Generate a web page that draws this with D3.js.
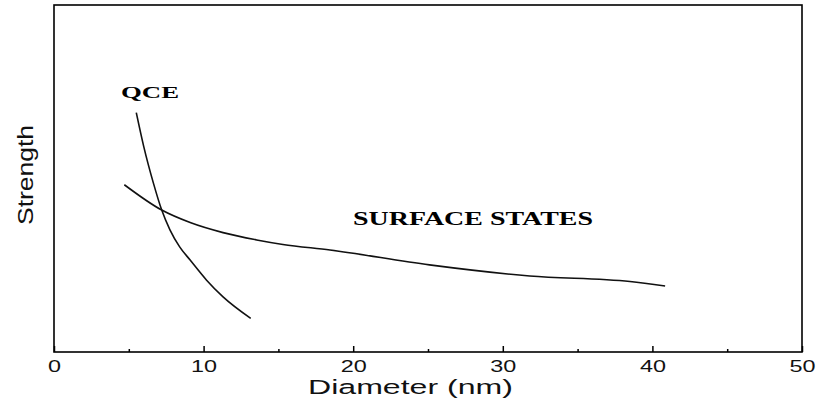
<!DOCTYPE html>
<html>
<head>
<meta charset="utf-8">
<script src="https://cdn.jsdelivr.net/npm/d3@7"></script>
<style>
  body { margin: 0; background: #fff; }
  svg { display: block; }
</style>
</head>
<body>
<svg width="817" height="402"></svg>
<script>
// data (strength is in arbitrary units, 0-100)
const qceDiameter = [5.5, 6.0, 6.65, 7.2, 7.75, 8.4, 9.1, 10.2, 11.3, 13.15]
const qceStrength = [69.0, 59.2, 48.6, 40.9, 35.2, 30.3, 26.5, 20.7, 15.9, 9.7]

const surfDiameter = [4.7, 7.2, 9.1, 11.3, 13.55, 15.3, 18.45, 25.1, 31.8, 38.5, 40.85]
const surfStrength = [48.2, 40.9, 37.3, 34.4, 32.3, 31.0, 29.4, 25.1, 21.9, 20.3, 19.0]

const majorTicks = [0, 10, 20, 30, 40, 50]
const minorTicks = [5, 15, 25, 35, 45]

const svg = d3.select("svg")

// frame edges
const frameLeft = 54, frameRight = 802, frameTop = 5, frameBottom = 352

const xScale = d3.scaleLinear()
	.domain([0, 50])
	.range([frameLeft, frameRight])

const yScale = d3.scaleLinear()
	.domain([0, 100])
	.range([frameBottom, frameTop])

// frame
svg.append("rect")
	.attr("x", frameLeft)
	.attr("y", frameTop)
	.attr("width", frameRight - frameLeft)
	.attr("height", frameBottom - frameTop)
	.attr("fill", "none")
	.attr("stroke", "#000")
	.attr("stroke-width", 1.6)

// bottom axis, ticks pointing inward
const xAxis = d3.axisBottom(xScale)
	.tickValues(majorTicks)
	.tickSize(-6)
	.tickPadding(9)
	.tickFormat(d3.format("d"))

const xg = svg.append("g")
	.attr("transform", `translate(0,${frameBottom})`)
	.call(xAxis)

xg.select(".domain").remove()
xg.selectAll(".tick line").attr("stroke", "#000").attr("stroke-width", 1.5)
xg.selectAll(".tick text")
	.attr("fill", "#111")
	.style("font-family", "Liberation Sans, Arial, sans-serif")
	.style("font-size", "16px")
	.attr("textLength", d => d < 10 ? 13 : 26)
	.attr("lengthAdjust", "spacingAndGlyphs")

const minorAxis = d3.axisBottom(xScale)
	.tickValues(minorTicks)
	.tickSize(-3)
	.tickFormat("")

const mg = svg.append("g")
	.attr("transform", `translate(0,${frameBottom})`)
	.call(minorAxis)
mg.select(".domain").remove()
mg.selectAll(".tick line").attr("stroke", "#000").attr("stroke-width", 1.5)

// curves
const line = d3.line()
	.x(d => xScale(d[0]))
	.y(d => yScale(d[1]))
	.curve(d3.curveMonotoneX)

const qce = d3.zip(qceDiameter, qceStrength)
const surf = d3.zip(surfDiameter, surfStrength)

svg.append("g")
	.attr("class", "paths")
	.selectAll("path")
	.data([qce, surf])
	.enter()
	.append("path")
	.attr("d", d => line(d))
	.attr("fill", "none")
	.attr("stroke", "#111")
	.attr("stroke-width", 1.6)

// labels in the plot
svg.append("text")
	.attr("x", 121)
	.attr("y", 98)
	.attr("textLength", 58)
	.attr("lengthAdjust", "spacingAndGlyphs")
	.style("font-family", "Liberation Serif, Times New Roman, serif")
	.style("font-weight", "bold")
	.style("font-size", "17px")
	.text("QCE")

svg.append("text")
	.attr("x", 353)
	.attr("y", 225)
	.attr("textLength", 240)
	.attr("lengthAdjust", "spacingAndGlyphs")
	.style("font-family", "Liberation Serif, Times New Roman, serif")
	.style("font-weight", "bold")
	.style("font-size", "18px")
	.text("SURFACE STATES")

// axis titles
svg.append("text")
	.attr("x", 308)
	.attr("y", 394)
	.attr("textLength", 205)
	.attr("lengthAdjust", "spacingAndGlyphs")
	.style("font-family", "Liberation Sans, Arial, sans-serif")
	.style("font-size", "20.5px")
	.attr("fill", "#111")
	.text("Diameter (nm)")

svg.append("text")
	.attr("transform", "translate(33,175) rotate(-90)")
	.attr("text-anchor", "middle")
	.attr("textLength", 100)
	.attr("lengthAdjust", "spacingAndGlyphs")
	.style("font-family", "Liberation Sans, Arial, sans-serif")
	.style("font-size", "22px")
	.attr("fill", "#111")
	.text("Strength")
</script>
</body>
</html>
